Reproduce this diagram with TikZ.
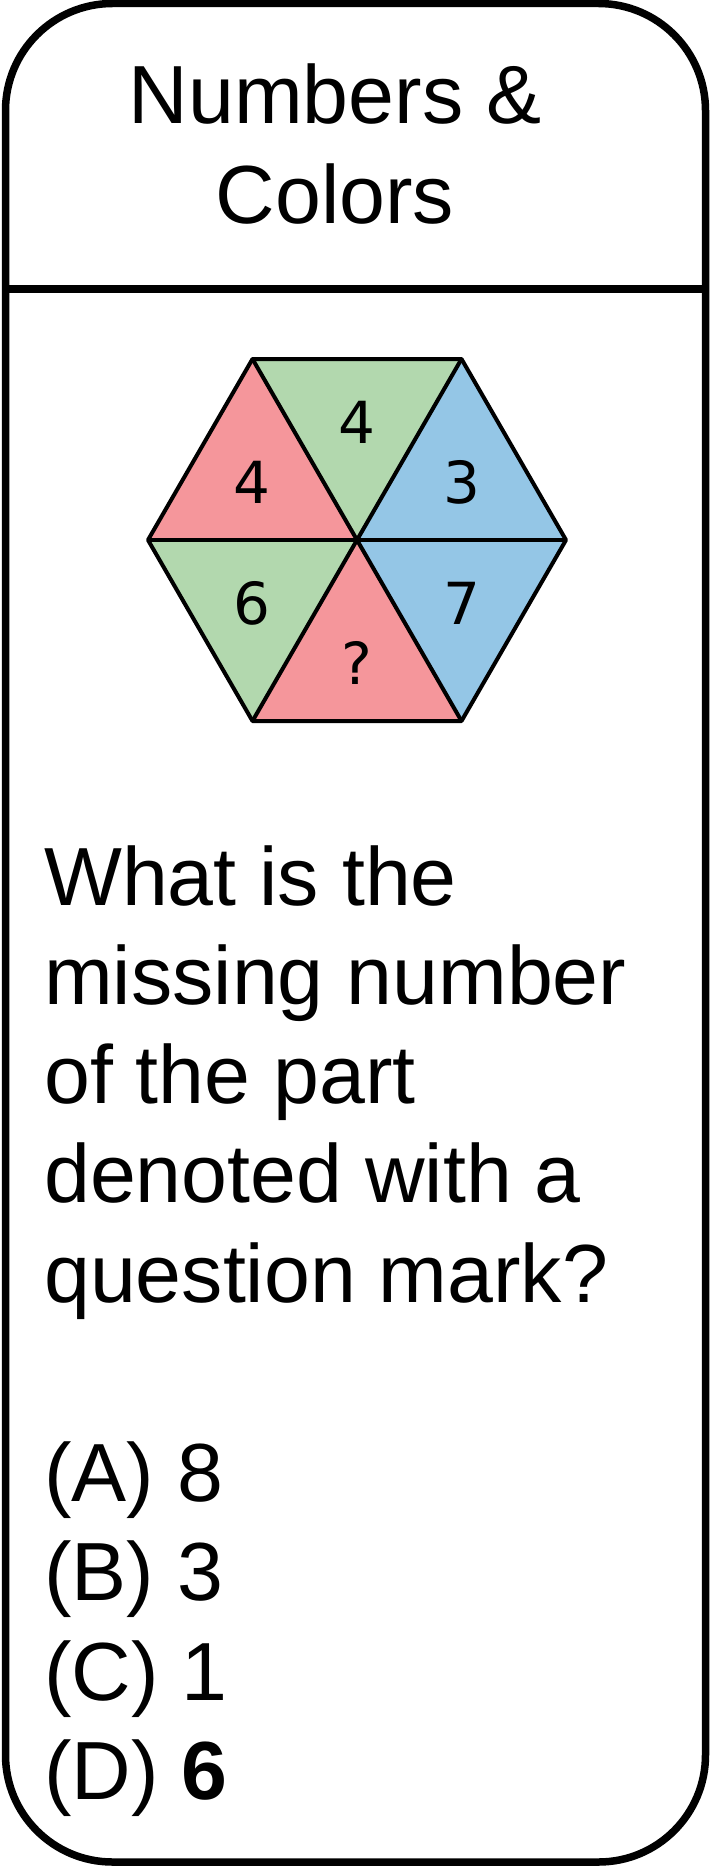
\documentclass[tikz,border=0pt]{standalone}
\usepackage{fontspec}
\setmainfont{Liberation Sans}
\newfontfamily\djv{DejaVu Sans}
\definecolor{pinkc}{RGB}{245,150,155}
\definecolor{greenc}{RGB}{178,216,174}
\definecolor{bluec}{RGB}{148,198,230}
\begin{document}
\begin{tikzpicture}[x=1pt,y=-1pt,
  frame/.style={line width=7.5pt},
  bodytext/.style={anchor=base west, inner sep=0pt, font=\fontsize{82.5}{99.5}\selectfont},
  titletext/.style={anchor=base, inner sep=0pt, font=\fontsize{82.5}{99.5}\selectfont},
  tri/.style={draw=black, line width=4pt, line join=round},
  num/.style={inner sep=0pt, font=\djv\fontsize{58}{58}\selectfont}]
\useasboundingbox (0,0) rectangle (710,1870);
% frame
\draw[frame, rounded corners=107pt] (5.5,3.5) rectangle (705.5,1862);
\coordinate (sepL) at (5.5,289);
\coordinate (sepR) at (705.5,289);
\draw[frame] (sepL) -- (sepR);
% title
\node[titletext] (t1) at (335,123.3) {Numbers \&};
\node[titletext] (t2) at (335,223.3) {Colors};
% hexagon
\coordinate (C)  at (357,540);
\coordinate (L)  at (148,540);
\coordinate (TL) at (252.5,359);
\coordinate (TR) at (461.5,359);
\coordinate (R)  at (566,540);
\coordinate (BR) at (461.5,721);
\coordinate (BL) at (252.5,721);
\fill[pinkc]  (L) -- (TL) -- (C) -- cycle;
\fill[greenc] (TL) -- (TR) -- (C) -- cycle;
\fill[bluec]  (TR) -- (R) -- (C) -- cycle;
\fill[bluec]  (R) -- (BR) -- (C) -- cycle;
\fill[pinkc]  (BR) -- (BL) -- (C) -- cycle;
\fill[greenc] (BL) -- (L) -- (C) -- cycle;
\draw[tri] (L) -- (TL) -- (TR) -- (R) -- (BR) -- (BL) -- cycle;
\draw[tri] (L) -- (R);
\draw[tri] (TL) -- (BR);
\draw[tri] (TR) -- (BL);
\node[num] (n1) at (252,482.5) {4};
\node[num] (n2) at (357,422.5) {4};
\node[num] (n3) at (462,482.5) {3};
\node[num] (n4) at (462,603) {7};
\node[num] (n5) at (357,663) {?};
\node[num] (n6) at (252,603) {6};
% question
\node[bodytext] (q1) at (44,905) {What is the};
\node[bodytext] (q2) at (44,1004.3) {missing number};
\node[bodytext] (q3) at (44,1103.6) {of the part};
\node[bodytext] (q4) at (44,1202.9) {denoted with a};
\node[bodytext] (q5) at (44,1302.2) {question mark?};
% answers
\node[bodytext] (a1) at (44,1501.5) {(A) 8};
\node[bodytext] (a2) at (44,1600.8) {(B) 3};
\node[bodytext] (a3) at (44,1700.1) {(C) 1};
\node[bodytext] (a4) at (44,1799.4) {(D) \textbf{6}};
\end{tikzpicture}
\end{document}
